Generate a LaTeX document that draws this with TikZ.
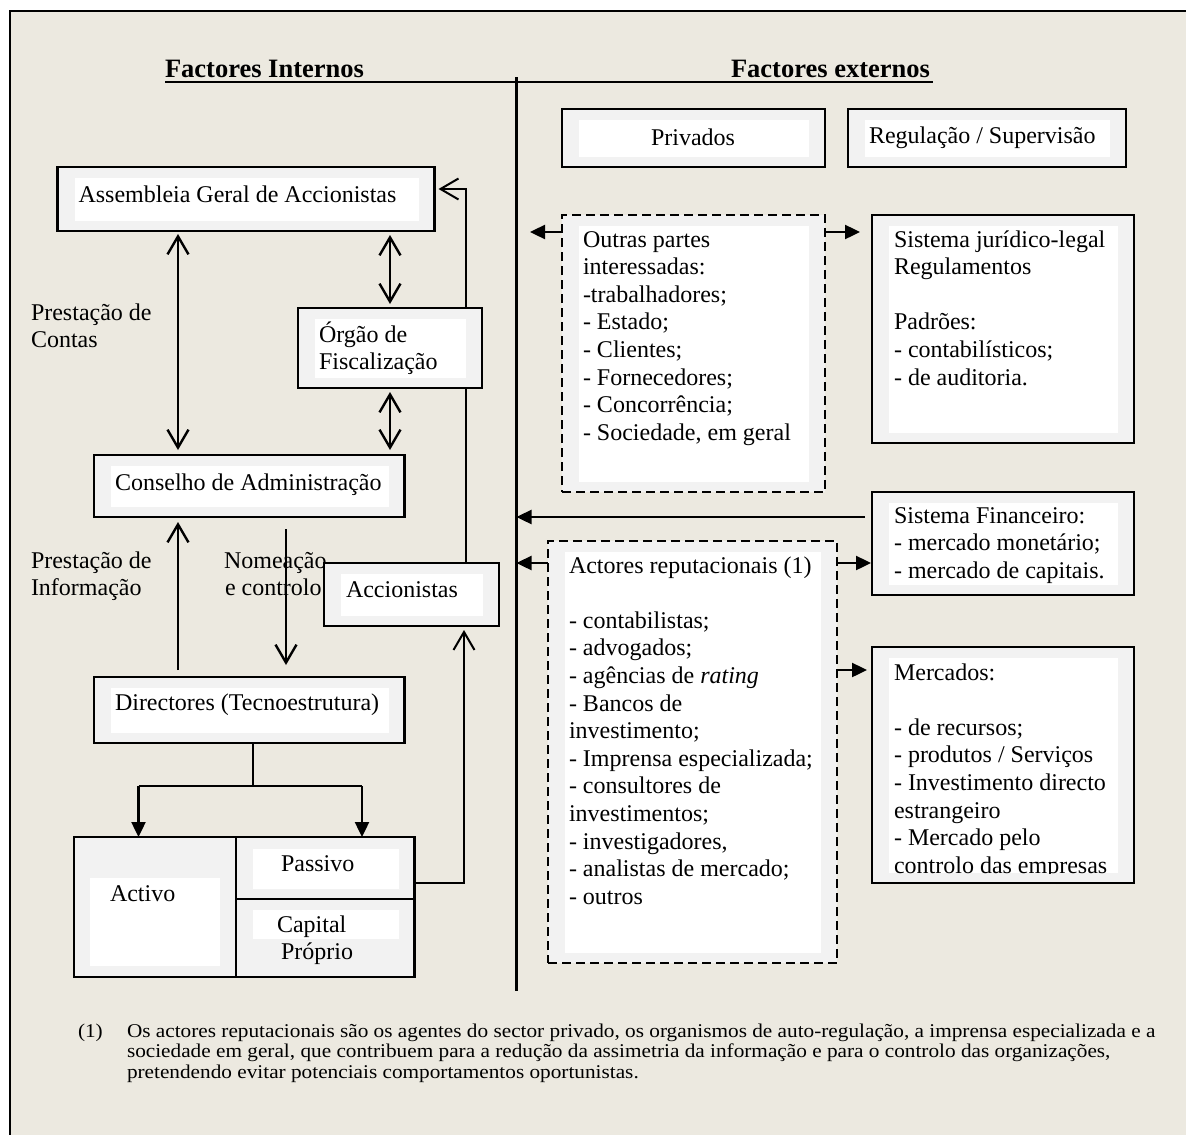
\documentclass[tikz,border=0pt]{standalone}
\usepackage{fontspec}
\setmainfont{Liberation Serif}
\newfontfamily\notefont[FakeStretch=1.09]{Liberation Serif}
\usetikzlibrary{arrows.meta}

\definecolor{pagebeige}{RGB}{236,233,224}
\definecolor{panelgray}{RGB}{242,242,242}

\pgfdeclarelayer{back}
\pgfdeclarelayer{mid}
\pgfsetlayers{back,mid,main}

\tikzset{
  txt/.style={inner sep=0pt, outer sep=0pt, anchor=base west,
    font=\fontsize{24}{27.6}\selectfont},
  headtxt/.style={inner sep=0pt, outer sep=0pt, anchor=base west,
    font=\fontsize{26.5}{30}\selectfont\bfseries},
  notetxt/.style={inner sep=0pt, outer sep=0pt, anchor=base west,
    font=\notefont\fontsize{19.5}{20.5}\selectfont},
  panelframe/.style={draw=black, line width=2.4pt, fill=panelgray,
    rectangle, inner sep=0pt, outer sep=0pt},
  dashframe/.style={panelframe, line width=2pt, dash pattern=on 9pt off 5pt},
  barbtip/.tip={Straight Barb[length=18pt,width=21pt]},
  twoway/.style={line width=2.4pt, barbtip-barbtip},
  oneway/.style={line width=2.4pt, -barbtip},
  feedline/.style={line width=1.2pt, -{Straight Barb[length=18pt,width=21pt,line width=2pt]}},
  solidhead/.style={line width=2.4pt, -{Triangle[length=15pt,width=14pt]}},
}

% framed panel with a white text field inside
\newcommand{\panel}[6][]{%
  \node[panelframe,#1,minimum width={(#5-#3)*1pt},minimum height={(#6-#4)*1pt}]
    (#2) at ({(#3+#5)/2},{(#4+#6)/2}) {};
  \fill[white] ({#3+17},{#4+11}) rectangle ({#5-16},{#6-10});
}
% framed cell without a text field
\newcommand{\cell}[5]{%
  \node[panelframe,minimum width={(#4-#2)*1pt},minimum height={(#5-#3)*1pt}]
    (#1) at ({(#2+#4)/2},{(#3+#5)/2}) {};
}
\newcommand{\stack}[1]{\parbox[t]{330pt}{\raggedright #1}}

\begin{document}
\begin{tikzpicture}[x=1pt,y=-1pt]
\useasboundingbox (0,0) rectangle (1186,1135);
\clip (0,0) rectangle (1186,1135);

% page frame
\begin{pgfonlayer}{back}
  \fill[white] (0,0) rectangle (1186,1135);
  \draw[line width=2.8pt, fill=pagebeige] (10,11) rectangle (1200,1150);
\end{pgfonlayer}

% headings and dividing lines
\node[headtxt] (hin) at (165,77) {Factores Internos};
\node[headtxt] (hex) at (731,77) {Factores externos};
\coordinate (hl) at (165,82);
\coordinate (hr) at (933,82);
\draw[line width=2.7pt] (hl) -- (hr);
\coordinate (divtop) at (516.5,77);
\coordinate (divbot) at (516.5,991);
\draw[line width=2.4pt] (divtop) -- (divbot);

% side labels
\node[txt] (lcontas) at (31,320) {\stack{Prestação de\\Contas}};
\node[txt] (linfo) at (31,568) {\stack{Prestação de\\Informação}};
\node[txt] (lnom) at (224,568) {\stack{Nomeação\\\hspace*{1pt}e controlo}};

% internal structure
\panel{asm}{57.5}{167}{434.5}{231}
\panel{org}{298}{308}{482}{388}
\panel{cons}{94}{455}{404.5}{517}
\panel{acc}{324}{563}{499}{626}
\panel{dir}{94}{677}{404.5}{743}

\cell{activo}{74}{837}{236}{977}
\cell{passivo}{236}{837}{414.5}{899}
\cell{capital}{236}{899}{414.5}{977}
\fill[white] (90,878) rectangle (220,966);
\fill[white] (253,848.5) rectangle (399,889);
\fill[white] (253,910) rectangle (399,939);

\node[txt] (tasm) at (78.5,202) {Assembleia Geral de Accionistas};
\node[txt] (torg) at (319,342) {\stack{Órgão de\\Fiscalização}};
\node[txt] (tcons) at (115,490) {Conselho de Administração};
\node[txt] (tacc) at (346,597) {Accionistas};
\node[txt] (tdir) at (115,710) {Directores (Tecnoestrutura)};
\node[txt] (tact) at (110,901) {Activo};
\node[txt] (tpas) at (281,871.5) {Passivo};
\node[txt] (tcap) at (277,932) {\stack{Capital\\\hspace*{4pt}Próprio}};

% external factors
\panel{priv}{562}{109}{825}{167}
\panel{reg}{848}{109}{1126}{167}
\panel[dashframe]{outras}{562}{215}{825}{492}
\panel{jur}{872}{215}{1134}{443}
\panel{fin}{872}{492}{1134}{595}
\panel[dashframe]{actrep}{548}{541}{837}{963}
\panel{mkt}{872}{647}{1134}{883}

\node[txt, anchor=base] (tpriv) at (693,145) {Privados};
\node[txt] (treg) at (869,143) {Regulação / Supervisão};
\node[txt] (toutras) at (583,247) {\stack{Outras partes\\interessadas:\\-trabalhadores;\\- Estado;\\- Clientes;\\- Fornecedores;\\- Concorrência;\\- Sociedade, em geral}};
\node[txt] (tjur) at (894,247) {\stack{Sistema jurídico-legal\\Regulamentos\\[27.6pt]Padrões:\\- contabilísticos;\\- de auditoria.}};
\node[txt] (tfin) at (894,523) {\stack{Sistema Financeiro:\\- mercado monetário;\\- mercado de capitais.}};
\node[txt] (tactrep) at (569,573) {\stack{Actores reputacionais (1)\\[27.6pt]- contabilistas;\\- advogados;\\- agências de \textit{rating}\\- Bancos de\\investimento;\\- Imprensa especializada;\\- consultores de\\investimentos;\\- investigadores,\\- analistas de mercado;\\- outros}};
\begin{scope}
  \clip (889,657) rectangle (1119,873);
  \node[txt] (tmkt) at (894,680) {\stack{Mercados:\\[27.6pt]- de recursos;\\- produtos / Serviços\\- Investimento directo\\estrangeiro\\- Mercado pelo\\controlo das empresas}};
\end{scope}

% lanes for the connectors
\coordinate (laneA) at (178,0);
\coordinate (laneB) at (390,0);
\coordinate (laneN) at (286,0);
\coordinate (laneT) at (466,0);
\coordinate (laneP) at (464,0);
\coordinate (feedY) at (0,189);
\coordinate (passY) at (0,883);
\coordinate (split) at (253,786);
\coordinate (laneL) at (138.5,0);
\coordinate (laneR) at (362,0);
\coordinate (outL) at (530,232);
\coordinate (finY) at (0,517);
\coordinate (actY) at (0,563);
\coordinate (mktY) at (0,670);

% shareholders feed back to the general meeting (runs behind the audit body)
\begin{pgfonlayer}{mid}
  \draw[feedline, shorten >=4pt] (acc.north -| laneT) -- (laneT |- feedY) -- (asm.east |- feedY);
\end{pgfonlayer}

% internal connectors
\draw[twoway, shorten <=3pt, shorten >=5pt] (asm.south -| laneA) -- (cons.north -| laneA);
\draw[twoway, shorten <=4pt, shorten >=4pt] (asm.south -| laneB) -- (org.north -| laneB);
\draw[twoway, shorten <=4pt, shorten >=5pt] (org.south -| laneB) -- (cons.north -| laneB);
\draw[oneway, shorten <=7pt, shorten >=5pt] (dir.north -| laneA) -- (cons.south -| laneA);
\draw[oneway, shorten <=12pt, shorten >=12pt] (cons.south -| laneN) -- (dir.north -| laneN);
\draw[line width=2pt, -barbtip, shorten >=4pt] (passivo.east |- passY) -- (laneP |- passY) -- (laneP |- acc.south);

\draw[line width=1.2pt] (dir.south -| split) -- (split);
\draw[line width=1.5pt] (split -| laneL) -- (split -| laneR);
\draw[solidhead] (split -| laneL) -- (activo.north -| laneL);
\draw[solidhead] (split -| laneR) -- (passivo.north -| laneR);

% external connectors
\draw[solidhead] (outras.west |- outL) -- (outL);
\draw[solidhead, shorten >=12pt] (outras.east |- outL) -- (jur.west |- outL);
\draw[solidhead, shorten <=7pt] (fin.west |- finY) -- (divtop |- finY);
\draw[solidhead] (actrep.west |- actY) -- (divtop |- actY);
\draw[solidhead, shorten >=1pt] (actrep.east |- actY) -- (fin.west |- actY);
\draw[solidhead, shorten >=5pt] (actrep.east |- mktY) -- (mkt.west |- mktY);

% footnote
\node[notetxt] (fnmark) at (78,1037) {(1)};
\node[notetxt] (fntext) at (127,1037) {\parbox[t]{1100pt}{\raggedright Os actores reputacionais são os agentes do sector privado, os organismos de auto-regulação, a imprensa especializada e a\\sociedade em geral, que contribuem para a redução da assimetria da informação e para o controlo das organizações,\\pretendendo evitar potenciais comportamentos oportunistas.}};
\end{tikzpicture}
\end{document}
